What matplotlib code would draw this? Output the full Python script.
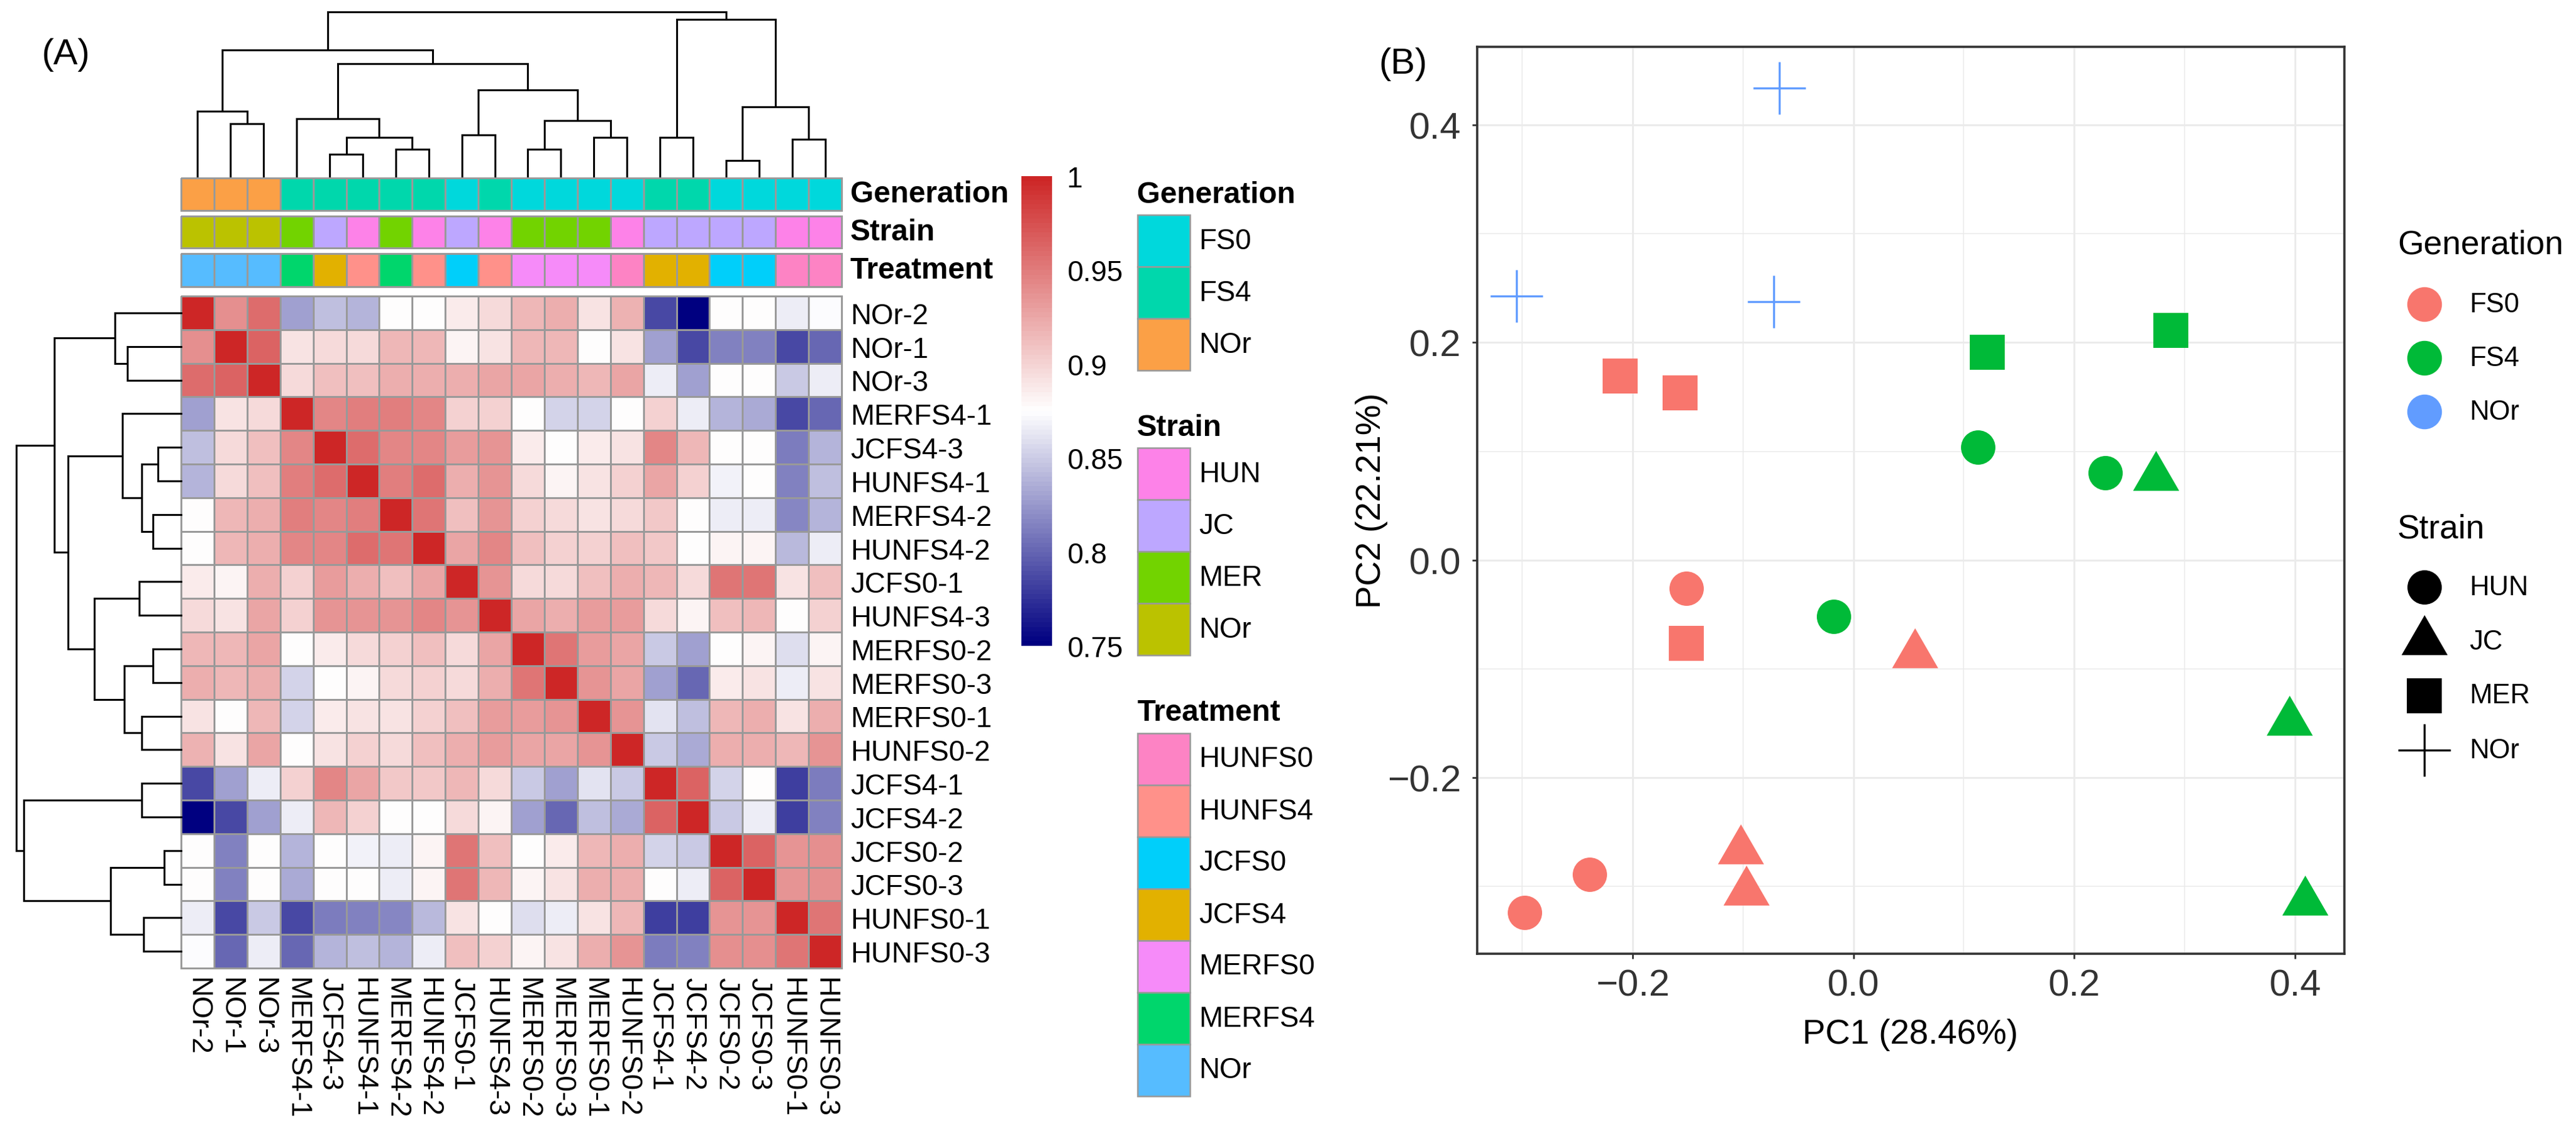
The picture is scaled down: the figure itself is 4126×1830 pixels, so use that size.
import numpy as np
import matplotlib
matplotlib.use('Agg')
import matplotlib.pyplot as plt
from matplotlib.colors import LinearSegmentedColormap, ListedColormap
from matplotlib.collections import LineCollection
from matplotlib.patches import Rectangle

plt.rcParams['font.family'] = ['Liberation Sans', 'DejaVu Sans']

# ---------------- data: heatmap ----------------
samples = ['NOr-2', 'NOr-1', 'NOr-3', 'MERFS4-1', 'JCFS4-3', 'HUNFS4-1', 'MERFS4-2',
           'HUNFS4-2', 'JCFS0-1', 'HUNFS4-3', 'MERFS0-2', 'MERFS0-3', 'MERFS0-1',
           'HUNFS0-2', 'JCFS4-1', 'JCFS4-2', 'JCFS0-2', 'JCFS0-3', 'HUNFS0-1', 'HUNFS0-3']

# upper triangle of the correlation matrix (row i, columns i+1 .. 19)
corr_upper = [
    [0.94, 0.96, 0.83, 0.845, 0.84, 0.875, 0.876, 0.885, 0.895, 0.915, 0.922, 0.89, 0.918, 0.785, 0.75, 0.876, 0.875, 0.865, 0.873],
    [0.965, 0.89, 0.895, 0.895, 0.915, 0.915, 0.88, 0.89, 0.915, 0.915, 0.877, 0.89, 0.83, 0.785, 0.815, 0.815, 0.785, 0.80],
    [0.895, 0.91, 0.91, 0.92, 0.92, 0.92, 0.925, 0.925, 0.92, 0.915, 0.925, 0.865, 0.83, 0.877, 0.876, 0.85, 0.865],
    [0.945, 0.95, 0.95, 0.945, 0.90, 0.90, 0.875, 0.855, 0.855, 0.875, 0.90, 0.865, 0.838, 0.835, 0.785, 0.80],
    [0.96, 0.945, 0.945, 0.93, 0.935, 0.885, 0.877, 0.885, 0.89, 0.945, 0.915, 0.877, 0.875, 0.81, 0.84],
    [0.95, 0.96, 0.92, 0.935, 0.895, 0.88, 0.89, 0.90, 0.925, 0.90, 0.868, 0.876, 0.815, 0.845],
    [0.955, 0.91, 0.935, 0.90, 0.895, 0.89, 0.895, 0.905, 0.876, 0.865, 0.865, 0.817, 0.84],
    [0.925, 0.945, 0.91, 0.90, 0.90, 0.91, 0.905, 0.876, 0.88, 0.88, 0.842, 0.865],
    [0.935, 0.895, 0.895, 0.91, 0.92, 0.915, 0.895, 0.955, 0.955, 0.89, 0.91],
    [0.925, 0.92, 0.93, 0.93, 0.895, 0.88, 0.91, 0.915, 0.876, 0.90],
    [0.955, 0.93, 0.925, 0.85, 0.83, 0.877, 0.88, 0.858, 0.88],
    [0.935, 0.925, 0.83, 0.80, 0.885, 0.89, 0.865, 0.89],
    [0.935, 0.862, 0.845, 0.915, 0.92, 0.89, 0.92],
    [0.85, 0.835, 0.92, 0.92, 0.915, 0.935],
    [0.965, 0.855, 0.875, 0.78, 0.81],
    [0.85, 0.865, 0.782, 0.815],
    [0.965, 0.935, 0.94],
    [0.935, 0.94],
    [0.955],
]

# hierarchical clustering merges (leaf indices in display order, cluster ids n+k), heights
merges = [
    (16, 17, 80), (4, 5, 112), (6, 7, 136), (10, 11, 136), (18, 19, 182),
    (21, 22, 191), (12, 13, 191), (14, 15, 191), (8, 9, 203), (1, 2, 259),
    (23, 26, 273), (3, 25, 283), (0, 29, 318), (20, 24, 339), (28, 30, 420),
    (31, 34, 545), (32, 35, 612), (27, 33, 760), (36, 37, 795),
]

gen_levels = ['FS0', 'FS4', 'NOr']
gen_colors = ['#00D8DC', '#00D7AC', '#FBA046']
strain_levels = ['HUN', 'JC', 'MER', 'NOr']
strain_colors = ['#FD82E8', '#BDA7FF', '#72D300', '#BBC200']
treat_levels = ['HUNFS0', 'HUNFS4', 'JCFS0', 'JCFS4', 'MERFS0', 'MERFS4', 'NOr']
treat_colors = ['#FD83C4', '#FF918A', '#00CFFA', '#E2B100', '#F68BF9', '#00D66C', '#56BCFF']

cbar_ticks = [0.75, 0.8, 0.85, 0.9, 0.95, 1.0]
cbar_labels = ['0.75', '0.8', '0.85', '0.9', '0.95', '1']

# ---------------- data: PCA ----------------
pca_generation = ['NOr', 'NOr', 'NOr',
                  'FS0', 'FS0', 'FS0', 'FS0', 'FS0', 'FS0', 'FS0', 'FS0', 'FS0',
                  'FS4', 'FS4', 'FS4', 'FS4', 'FS4', 'FS4', 'FS4', 'FS4']
pca_strain = ['NOr', 'NOr', 'NOr',
              'MER', 'MER', 'MER', 'HUN', 'HUN', 'HUN', 'JC', 'JC', 'JC',
              'MER', 'MER', 'HUN', 'HUN', 'HUN', 'JC', 'JC', 'JC']
pc1 = [-0.067, -0.305, -0.072,
       -0.211, -0.157, -0.1515, -0.1515, -0.239, -0.298, 0.0558, -0.102, -0.097,
       0.121, 0.2875, 0.113, 0.228, -0.0178, 0.274, 0.395, 0.409]
pc2 = [0.434, 0.2425, 0.2376,
       0.169, 0.154, -0.0764, -0.026, -0.289, -0.324, -0.087, -0.267, -0.305,
       0.191, 0.211, 0.104, 0.0805, -0.0519, 0.0763, -0.149, -0.314]
pca_gen_levels = ['FS0', 'FS4', 'NOr']
pca_gen_colors = ['#F8766D', '#00BA38', '#619CFF']
pca_strain_levels = ['HUN', 'JC', 'MER', 'NOr']

# ---------------- figure ----------------
W, H = 4126, 1831
DPI = 200
fig = plt.figure(figsize=(W / DPI, H / DPI), dpi=DPI)


def rect(l, t, r, b):
    return [l / W, 1 - b / H, (r - l) / W, (b - t) / H]


def px2pt(p):
    return p * 72.0 / DPI


n = len(samples)
M = np.eye(n)
for i, row in enumerate(corr_upper):
    for k, v in enumerate(row):
        j = i + 1 + k
        M[i, j] = v
        M[j, i] = v

cmap = LinearSegmentedColormap.from_list('nwf', ['#000080', '#FFFFFF', '#CD2626'], N=100)
GRID = '#999999'
FS = 16.5

# heatmap
axh = fig.add_axes(rect(290, 475, 1348, 1551))
mesh = axh.pcolormesh(np.arange(n + 1), np.arange(n + 1), M, cmap=cmap, vmin=0.75, vmax=1.0,
                      edgecolors=GRID, linewidth=0.9)
mesh.set_clip_on(False)
axh.set_xlim(0, n)
axh.set_ylim(n, 0)
axh.set_xticks(np.arange(n) + 0.5)
axh.set_yticks(np.arange(n) + 0.5)
axh.set_xticklabels(samples, rotation=270, fontsize=FS, ha='center', va='top')
axh.set_yticklabels(samples, fontsize=FS)
axh.yaxis.tick_right()
axh.tick_params(axis='both', length=0)
axh.tick_params(axis='y', pad=px2pt(14))
axh.tick_params(axis='x', pad=px2pt(14))
for s in axh.spines.values():
    s.set_visible(False)


def dendro_segments(merge_list, nleaf):
    pos = {i: i + 0.5 for i in range(nleaf)}
    hgt = {i: 0.0 for i in range(nleaf)}
    segs = []
    for k, (a, b, h) in enumerate(merge_list):
        xa, xb = pos[a], pos[b]
        segs.append([(xa, hgt[a]), (xa, h)])
        segs.append([(xb, hgt[b]), (xb, h)])
        segs.append([(xa, h), (xb, h)])
        pos[nleaf + k] = (xa + xb) / 2.0
        hgt[nleaf + k] = h
    return segs


segs = dendro_segments(merges, n)
top_h = max(m[2] for m in merges)

# column dendrogram
axc = fig.add_axes(rect(290, 20, 1348, 285))
lc = LineCollection(segs, colors='black', linewidths=1.1, capstyle='projecting')
lc.set_clip_on(False)
axc.add_collection(lc)
axc.set_xlim(0, n)
axc.set_ylim(0, top_h)
axc.axis('off')

# row dendrogram
axr = fig.add_axes(rect(26, 475, 290, 1551))
segs_r = [[(p[1], p[0]) for p in seg] for seg in segs]
lr = LineCollection(segs_r, colors='black', linewidths=1.1, capstyle='projecting')
lr.set_clip_on(False)
axr.add_collection(lr)
axr.set_xlim(top_h, 0)
axr.set_ylim(n, 0)
axr.axis('off')

# annotation bars
sample_treat = [s.split('-')[0] for s in samples]
sample_gen = ['NOr' if t == 'NOr' else t[-3:] for t in sample_treat]
sample_strain = ['NOr' if t == 'NOr' else t[:-3] for t in sample_treat]

ann_rows = [
    ('Generation', sample_gen, gen_levels, gen_colors, (286, 338)),
    ('Strain', sample_strain, strain_levels, strain_colors, (347, 398)),
    ('Treatment', sample_treat, treat_levels, treat_colors, (407, 460)),
]
for name, vals, levels, cols, (t, b) in ann_rows:
    axa = fig.add_axes(rect(290, t, 1348, b))
    idx = np.array([[levels.index(v) for v in vals]])
    m = axa.pcolormesh(np.arange(n + 1), [0, 1], idx, cmap=ListedColormap(cols),
                       vmin=-0.5, vmax=len(levels) - 0.5, edgecolors=GRID, linewidth=0.9)
    m.set_clip_on(False)
    axa.set_xlim(0, n)
    axa.set_ylim(1, 0)
    axa.axis('off')
    fig.text(1362 / W, 1 - ((t + b) / 2) / H, name, fontsize=FS + 0.8, fontweight='bold',
             ha='left', va='center')

# colorbar
axcb = fig.add_axes(rect(1636, 283, 1685, 1035))
levels_cb = np.linspace(0.75, 1.0, 101)
axcb.pcolormesh([0, 1], levels_cb, ((levels_cb[:-1] + levels_cb[1:]) / 2)[:, None],
                cmap=cmap, vmin=0.75, vmax=1.0)
axcb.set_xlim(0, 1)
axcb.set_ylim(0.75, 1.0)
axcb.set_xticks([])
axcb.yaxis.tick_right()
axcb.set_yticks(cbar_ticks)
axcb.set_yticklabels(cbar_labels, fontsize=FS)
axcb.tick_params(axis='y', length=0, pad=px2pt(24))
for s in axcb.spines.values():
    s.set_visible(False)

# annotation legends (pixel-space axes)
axl = fig.add_axes(rect(1780, 260, 2200, 1800))
axl.set_xlim(1780, 2200)
axl.set_ylim(1800, 260)
axl.axis('off')
leg_blocks = [
    ('Generation', gen_levels, gen_colors, 312, 345),
    ('Strain', strain_levels, strain_colors, 685, 718),
    ('Treatment', treat_levels, treat_colors, 1141, 1175),
]
box_h = 83
for title, levels, cols, ty, by in leg_blocks:
    axl.text(1821, ty, title, fontsize=FS + 0.8, fontweight='bold', ha='left', va='center')
    for k, (lev, c) in enumerate(zip(levels, cols)):
        y0 = by + k * box_h
        axl.add_patch(Rectangle((1822, y0), 84, box_h, facecolor=c, edgecolor=GRID, linewidth=0.9))
        axl.text(1920, y0 + box_h / 2, lev, fontsize=FS, ha='left', va='center')

fig.text(105 / W, 1 - 88 / H, '(A)', fontsize=21, ha='center', va='center')

# ---------------- PCA panel ----------------
axp = fig.add_axes(rect(2366, 76, 3755, 1528))
x1, x2 = min(pc1), max(pc1)
y1, y2 = min(pc2), max(pc2)
axp.set_xlim(x1 - 0.05 * (x2 - x1), x2 + 0.05 * (x2 - x1))
axp.set_ylim(y1 - 0.05 * (y2 - y1), y2 + 0.05 * (y2 - y1))
axp.set_xticks([-0.2, 0.0, 0.2, 0.4])
axp.set_yticks([-0.2, 0.0, 0.2, 0.4])
axp.set_xticks([-0.3, -0.1, 0.1, 0.3], minor=True)
axp.set_yticks([-0.3, -0.1, 0.1, 0.3], minor=True)
axp.set_xticklabels(['\u22120.2', '0.0', '0.2', '0.4'])
axp.set_yticklabels(['\u22120.2', '0.0', '0.2', '0.4'])
axp.grid(which='major', color='#EBEBEB', linewidth=1.1)
axp.grid(which='minor', color='#EBEBEB', linewidth=0.55)
axp.set_axisbelow(True)
axp.tick_params(which='major', length=px2pt(8), width=1.0, color='#333333',
                labelsize=21.5, labelcolor='#333333')
axp.tick_params(axis='y', which='major', pad=px2pt(18))
axp.tick_params(axis='x', which='major', pad=px2pt(16))
axp.tick_params(which='minor', length=0)
for s in axp.spines.values():
    s.set_color('#333333')
    s.set_linewidth(1.3)

tri = [(0.0, 1.0), (0.866, -0.5), (-0.866, -0.5)]
marker_map = {'HUN': 'o', 'JC': tri, 'MER': 's', 'NOr': '+'}
size_map = {'HUN': 392, 'JC': 940, 'MER': 400, 'NOr': 900}
gcol = dict(zip(pca_gen_levels, pca_gen_colors))
for x, y, g, st in zip(pc1, pc2, pca_generation, pca_strain):
    if st == 'NOr':
        axp.scatter([x], [y], marker='+', s=size_map[st], c=gcol[g], linewidths=1.2, zorder=3)
    else:
        axp.scatter([x], [y], marker=marker_map[st], s=size_map[st], c=gcol[g],
                    linewidths=0, zorder=3)

fig.text(3060 / W, 1 - 1657 / H, 'PC1 (28.46%)', fontsize=19.8, ha='center', va='center')
fig.text(2197 / W, 1 - 802 / H, 'PC2 (22.21%)', fontsize=19.8, ha='center', va='center',
         rotation=90)
fig.text(2247 / W, 1 - 103 / H, '(B)', fontsize=21, ha='center', va='center')

# PCA legend (pixel-space axes)
axpl = fig.add_axes(rect(3770, 280, 4126, 1300))
axpl.set_xlim(3770, 4126)
axpl.set_ylim(1300, 280)
axpl.axis('off')
axpl.text(3840, 392, 'Generation', fontsize=19.3, ha='left', va='center')
for k, (lev, c) in enumerate(zip(pca_gen_levels, pca_gen_colors)):
    yk = 488 + k * 86
    axpl.scatter([3883], [yk], marker='o', s=400, c=c, linewidths=0, clip_on=False)
    axpl.text(3955, yk, lev, fontsize=15.7, ha='left', va='center')
axpl.text(3840, 847, 'Strain', fontsize=19.3, ha='left', va='center')
for k, lev in enumerate(pca_strain_levels):
    yk = 941 + k * 87
    if lev == 'NOr':
        axpl.scatter([3883], [yk], marker='+', s=size_map[lev], c='black', linewidths=1.2,
                     clip_on=False)
    else:
        axpl.scatter([3883], [yk], marker=marker_map[lev], s=size_map[lev], c='black',
                     linewidths=0, clip_on=False)
    axpl.text(3955, yk, lev, fontsize=15.7, ha='left', va='center')

fig.savefig('out.png', dpi=DPI, facecolor='white')
